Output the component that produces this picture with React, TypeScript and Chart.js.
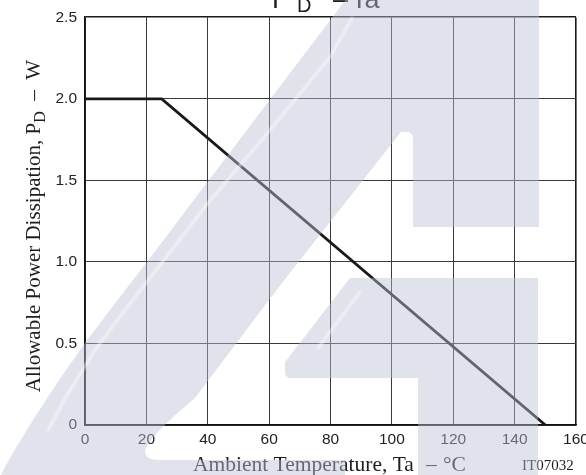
import React, { useEffect, useRef } from "react";
import { Chart, registerables } from "chart.js";

Chart.register(...registerables);

// ---- data ----
const ambientTemperature = [0, 25, 150]; // Ta (°C)
const allowablePower = [2.0, 2.0, 0]; // PD (W)
const xTickValues = [0, 20, 40, 60, 80, 100, 120, 140, 160];
const yTickValues = [0, 0.5, 1.0, 1.5, 2.0, 2.5];
const yTickLabels = ["0", "0.5", "1.0", "1.5", "2.0", "2.5"];
const chartCode = "IT07032";

const SANS = '"Liberation Sans", Arial, Helvetica, sans-serif';
const SERIF = '"Liberation Serif", "Times New Roman", Times, serif';
const INK = "#1e1e1e";

function drawTexts(ctx: CanvasRenderingContext2D) {
  ctx.save();
  ctx.fillStyle = INK;
  ctx.textBaseline = "alphabetic";
  ctx.textAlign = "left";

  // Title "P_D – Ta" (cut off at the top, as in the reference)
  ctx.font = `27px ${SANS}`;
  ctx.fillText("P", 272, 8);
  ctx.font = `20px ${SANS}`;
  ctx.fillText("D", 297, 12);
  ctx.font = `27px ${SANS}`;
  ctx.fillText("\u2013", 333, 8);
  ctx.fillText("Ta", 351, 8);

  // Y axis title, rotated
  ctx.save();
  ctx.translate(40, 226);
  ctx.rotate(-Math.PI / 2);
  const main = "Allowable Power Dissipation, P";
  const tail = "  \u2013  W";
  ctx.font = `21px ${SERIF}`;
  const wMain = ctx.measureText(main).width;
  const wTail = ctx.measureText(tail).width;
  ctx.font = `16px ${SERIF}`;
  const wSub = ctx.measureText("D").width;
  const total = wMain + wSub + wTail;
  let x = -total / 2;
  ctx.font = `21px ${SERIF}`;
  ctx.fillText(main, x, 0);
  x += wMain;
  ctx.font = `16px ${SERIF}`;
  ctx.fillText("D", x, 5);
  x += wSub;
  ctx.font = `21px ${SERIF}`;
  ctx.fillText(tail, x, 0);
  ctx.restore();

  // X axis title
  ctx.font = `21.5px ${SERIF}`;
  ctx.fillText("Ambient Temperature, Ta", 193, 471);
  ctx.fillText("\u2013", 426, 471);
  ctx.fillText("\u00b0C", 443, 471);

  // chart code
  ctx.font = `15px ${SERIF}`;
  ctx.fillText(chartCode, 522, 470);
  ctx.restore();
}

function drawWatermark(ctx: CanvasRenderingContext2D) {
  ctx.save();
  ctx.fillStyle = "rgba(187,193,213,0.45)";
  ctx.beginPath();
  // big diagonal stroke + top bar
  ctx.moveTo(347, -2);
  ctx.lineTo(539, -2);
  ctx.lineTo(539, 227);
  ctx.lineTo(413, 227);
  ctx.lineTo(413, 139);
  ctx.quadraticCurveTo(413, 132, 406, 132);
  ctx.lineTo(401, 132);
  ctx.lineTo(300, 260);
  ctx.lineTo(269, 300);
  ctx.lineTo(195, 398);
  ctx.quadraticCurveTo(145, 440, 145, 452);
  ctx.quadraticCurveTo(146, 460, 158, 460);
  ctx.lineTo(345, 460);
  ctx.lineTo(345, 477);
  ctx.lineTo(0, 477);
  ctx.lineTo(6, 465);
  ctx.lineTo(17, 446);
  ctx.lineTo(33, 420);
  ctx.lineTo(57, 383);
  ctx.lineTo(85, 343);
  ctx.lineTo(116, 302);
  ctx.lineTo(150, 258);
  ctx.lineTo(190, 205);
  ctx.closePath();
  // lower shape (wing + stem)
  ctx.moveTo(350, 278);
  ctx.lineTo(538, 278);
  ctx.lineTo(538, 477);
  ctx.lineTo(418, 477);
  ctx.lineTo(418, 378);
  ctx.lineTo(291, 378);
  ctx.quadraticCurveTo(285, 378, 285, 372);
  ctx.lineTo(285, 362);
  ctx.closePath();
  ctx.fill();

  // glossy highlights
  ctx.strokeStyle = "rgba(255,255,255,0.6)";
  ctx.lineWidth = 2.5;
  ctx.lineCap = "round";
  ctx.lineJoin = "round";
  (ctx as any).filter = "blur(1.2px)";
  ctx.beginPath();
  ctx.moveTo(352, 18);
  ctx.lineTo(330, 57);
  ctx.lineTo(270, 130);
  ctx.lineTo(208, 203);
  ctx.lineTo(160, 265);
  ctx.lineTo(125, 310);
  ctx.lineTo(95, 350);
  ctx.lineTo(67, 395);
  ctx.lineTo(48, 430);
  ctx.stroke();
  ctx.beginPath();
  ctx.moveTo(360, 292);
  ctx.lineTo(318, 348);
  ctx.stroke();
  ctx.restore();
}

const decorPlugin = {
  id: "datasheetDecor",
  afterDraw(chart: any) {
    const ctx = chart.ctx as CanvasRenderingContext2D;
    drawTexts(ctx);
    drawWatermark(ctx);
  },
};

export default function App() {
  const canvasRef = useRef<HTMLCanvasElement | null>(null);

  useEffect(() => {
    if (!canvasRef.current) return;
    const edgeWidth = (ctx: any, max: number) =>
      ctx.tick && ctx.tick.value === max ? 1.6 : 1;
    const edgeColor = (ctx: any, max: number) =>
      ctx.tick && ctx.tick.value === max ? "#1a1a1a" : "#3a3a3a";

    const chart = new Chart(canvasRef.current, {
      type: "line",
      data: {
        datasets: [
          {
            data: ambientTemperature.map((t, i) => ({ x: t, y: allowablePower[i] })),
            borderColor: "#1a1a1a",
            borderWidth: 2.8,
            pointRadius: 0,
            fill: false,
            tension: 0,
          },
        ],
      },
      options: {
        animation: false,
        responsive: false,
        events: [],
        layout: { padding: { top: 17, right: 10, bottom: 0, left: 0 } },
        plugins: {
          legend: { display: false },
          tooltip: { enabled: false },
          title: { display: false },
        },
        scales: {
          x: {
            type: "linear",
            min: 0,
            max: 160,
            afterBuildTicks: (s: any) => {
              s.ticks = xTickValues.map((v) => ({ value: v }));
            },
            afterFit: (s: any) => {
              s.height = 50;
              s.paddingRight = 0;
              s.paddingLeft = 0;
            },
            ticks: {
              padding: 5,
              maxRotation: 0,
              autoSkip: false,
              color: "#222",
              font: { family: SANS, size: 15.5 },
              callback: (v: any) => String(v),
            },
            grid: {
              drawTicks: false,
              color: (c: any) => edgeColor(c, 160),
              lineWidth: (c: any) => edgeWidth(c, 160),
            },
            border: { display: true, color: "#111", width: 1.6 },
          },
          y: {
            type: "linear",
            min: 0,
            max: 2.5,
            afterBuildTicks: (s: any) => {
              s.ticks = yTickValues.map((v) => ({ value: v }));
            },
            afterFit: (s: any) => {
              s.width = 85;
            },
            ticks: {
              padding: 8,
              autoSkip: false,
              color: "#222",
              font: { family: SANS, size: 15.5 },
              callback: (_v: any, i: number) => yTickLabels[i],
            },
            grid: {
              drawTicks: false,
              color: (c: any) => edgeColor(c, 2.5),
              lineWidth: (c: any) => edgeWidth(c, 2.5),
            },
            border: { display: true, color: "#111", width: 1.6 },
          },
        },
      },
      plugins: [decorPlugin],
    } as any);

    return () => chart.destroy();
  }, []);

  return (
    <div
      style={{
        position: "absolute",
        left: 0,
        top: 0,
        width: 586,
        height: 475,
        background: "#fff",
        overflow: "hidden",
      }}
    >
      <canvas ref={canvasRef} width={586} height={475} style={{ display: "block" }} />
    </div>
  );
}
